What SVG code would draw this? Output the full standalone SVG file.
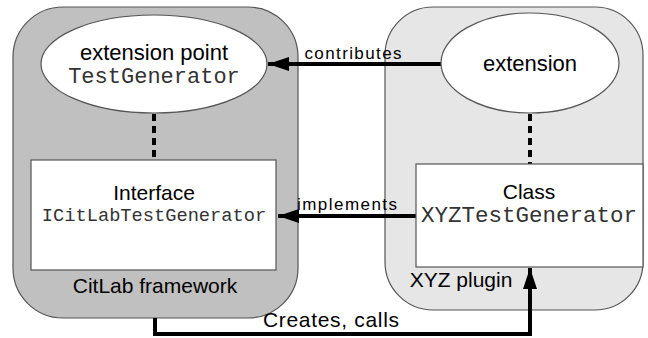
<svg xmlns="http://www.w3.org/2000/svg" width="648" height="338" viewBox="0 0 648 338">
  <defs>
    <marker id="arr" markerUnits="userSpaceOnUse" markerWidth="22" markerHeight="14" refX="21" refY="7" orient="auto">
      <path d="M0,0 L21,7 L0,14 z" fill="#000"/>
    </marker>
    <style>
      .cont { stroke: #555; stroke-width: 1.2; }
      .node { fill: #fff; stroke: #555; stroke-width: 1.2; }
      .sans { font-family: "Liberation Sans", Arial, sans-serif; fill: #000; }
      .mono { font-family: "Liberation Mono", "Courier New", monospace; fill: #333; }
      .conn { fill: none; stroke: #000; stroke-width: 4; }
      .dash { fill: none; stroke: #000; stroke-width: 4; stroke-dasharray: 7 5; }
    </style>
  </defs>
  <rect width="648" height="338" fill="#fff"/>

  <g id="citlab-framework">
    <rect class="cont" x="13" y="7" width="285" height="311" rx="50" ry="50" fill="#c0c0c0"/>
    <text class="sans" x="155" y="293" font-size="21" text-anchor="middle">CitLab framework</text>
  </g>
  <g id="xyz-plugin">
    <rect class="cont" x="385" y="7" width="258" height="303" rx="48" ry="48" fill="#e6e6e6"/>
    <text class="sans" x="461" y="287" font-size="21" text-anchor="middle">XYZ plugin</text>
  </g>

  <g id="connectors">
    <line class="dash" x1="154" y1="114" x2="154" y2="160"/>
    <line class="dash" x1="530" y1="114" x2="530" y2="164"/>
    <line class="conn" x1="441" y1="64" x2="268" y2="64" marker-end="url(#arr)"/>
    <line class="conn" x1="416" y1="216" x2="278" y2="216" marker-end="url(#arr)"/>
    <path class="conn" d="M155,318 V334 H530 V268" marker-end="url(#arr)"/>
    <text class="sans" x="353" y="59" font-size="17" text-anchor="middle" textLength="97">contributes</text>
    <text class="sans" x="347" y="210" font-size="17" text-anchor="middle" textLength="100">implements</text>
    <text class="sans" x="331" y="327" font-size="21" text-anchor="middle" textLength="136">Creates, calls</text>
  </g>

  <g id="extension-point">
    <ellipse class="node" cx="154" cy="64" rx="113" ry="49"/>
    <text class="sans" x="154" y="60" font-size="22" text-anchor="middle">extension point</text>
    <text class="mono" x="154" y="83" font-size="22" text-anchor="middle">TestGenerator</text>
  </g>
  <g id="extension">
    <ellipse class="node" cx="530" cy="63" rx="89" ry="50"/>
    <text class="sans" x="530" y="71" font-size="22" text-anchor="middle">extension</text>
  </g>
  <g id="interface">
    <rect class="node" x="31" y="160" width="245" height="110"/>
    <text class="sans" x="154" y="200" font-size="21" text-anchor="middle">Interface</text>
    <text class="mono" x="154" y="221" font-size="18.7" text-anchor="middle">ICitLabTestGenerator</text>
  </g>
  <g id="class">
    <rect class="node" x="416" y="164" width="227" height="103"/>
    <text class="sans" x="529" y="199" font-size="21" text-anchor="middle">Class</text>
    <text class="mono" x="529" y="222" font-size="22.5" text-anchor="middle">XYZTestGenerator</text>
  </g>
</svg>
